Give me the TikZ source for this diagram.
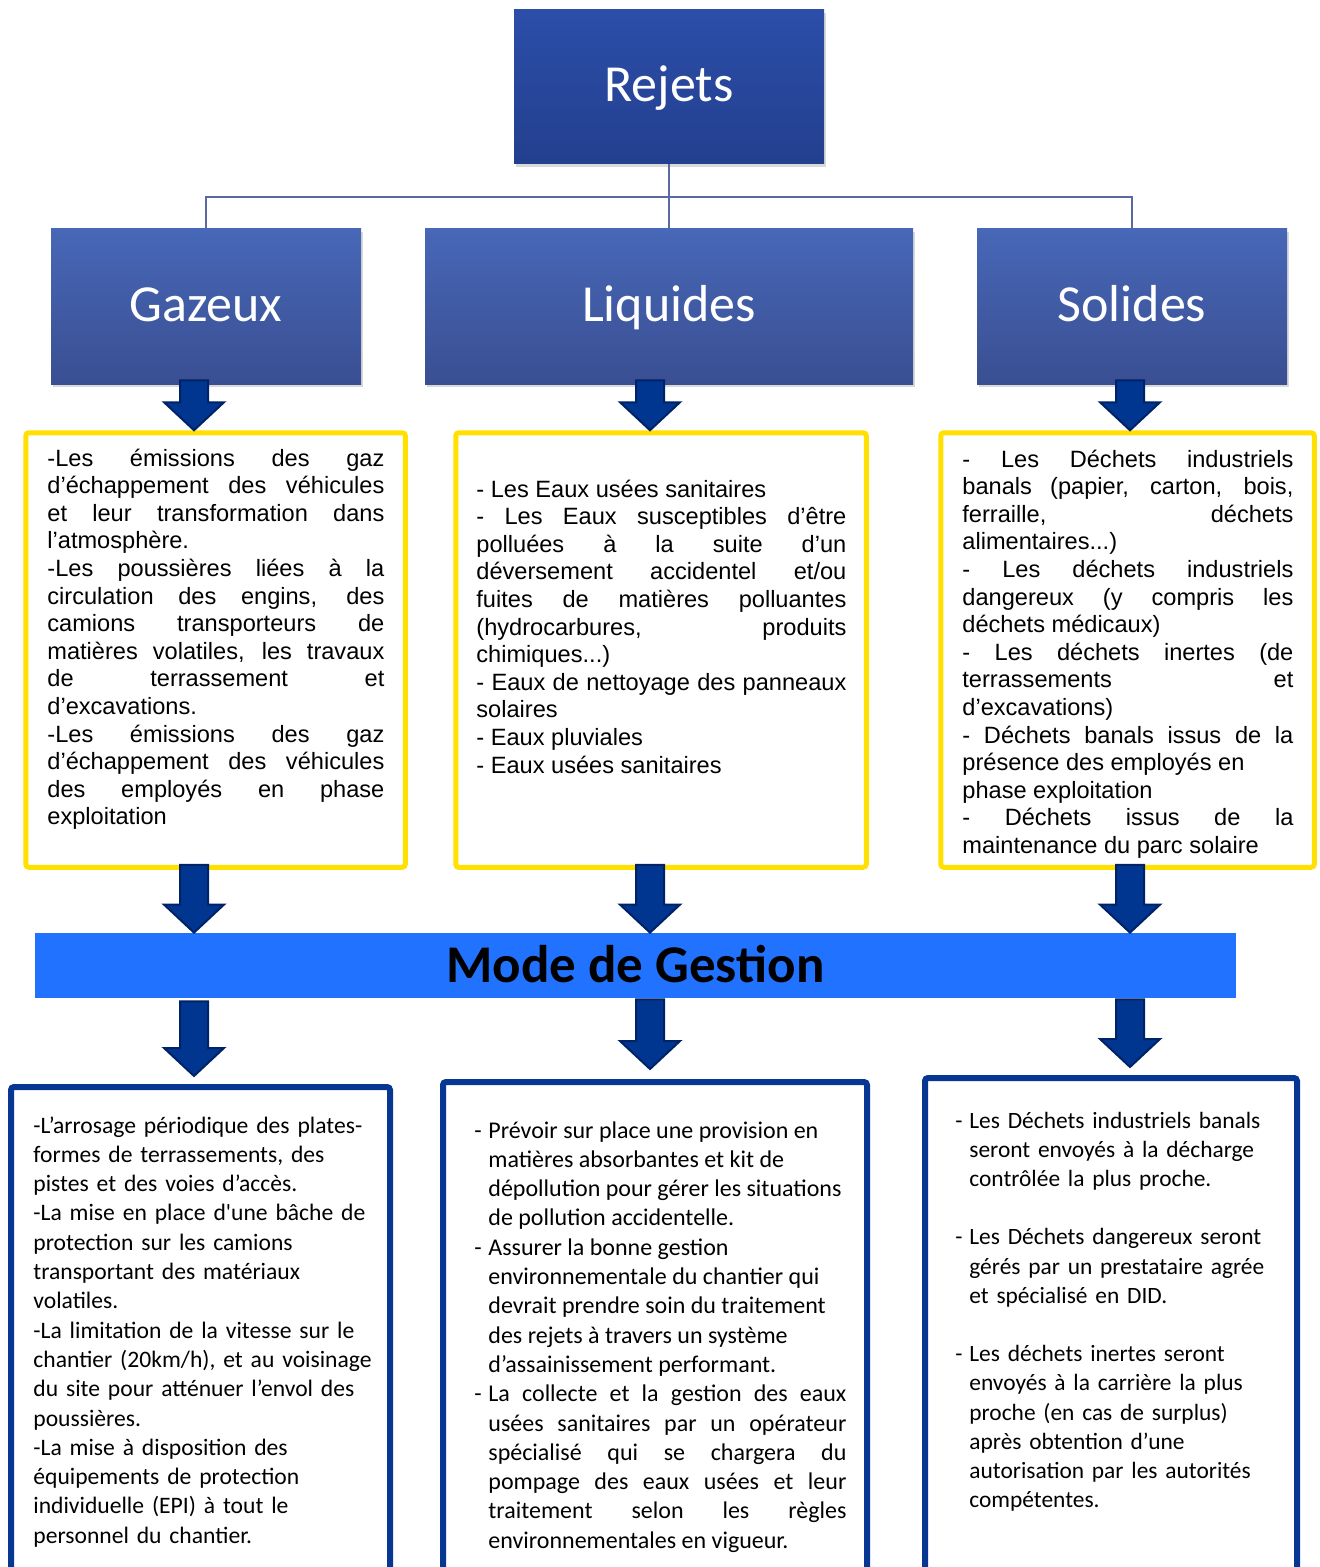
\documentclass[tikz,border=0pt]{standalone}
\usepackage{fontspec}
\setmainfont{Carlito}
\newfontfamily\arialfont{Liberation Sans}
\usetikzlibrary{calc,shadows}

\definecolor{rejtop}{HTML}{2C4EA9}
\definecolor{rejbot}{HTML}{233F8E}
\definecolor{cattop}{HTML}{4767B7}
\definecolor{catbot}{HTML}{3A4F92}
\definecolor{connblue}{HTML}{5B69A3}
\definecolor{yframe}{HTML}{FFE000}
\definecolor{modeblue}{HTML}{2173FF}
\definecolor{gframe}{HTML}{073793}
\definecolor{arrfill}{HTML}{00368F}
\definecolor{arrline}{HTML}{002266}

\tolerance=10000 \hbadness=10000
\hyphenpenalty=10000 \exhyphenpenalty=10000

\tikzset{
  rejbox/.style={top color=rejtop, bottom color=rejbot, text=white,
    drop shadow={shadow xshift=1pt, shadow yshift=-1.5pt, opacity=0.3},
    font=\fontsize{26pt}{30pt}\selectfont, text height=20pt, text depth=5.2pt},
  catbox/.style={rejbox, top color=cattop, bottom color=catbot, minimum height=77.5pt},
  conn/.style={draw=connblue, line width=1pt},
  ybox/.style={draw=yframe, line width=2.5pt, rounded corners=1.5pt},
  ytext/.style={anchor=base west, inner sep=0pt, align=justify,
    font=\arialfont\fontsize{11.8pt}{13.8pt}\selectfont},
  modebar/.style={fill=modeblue, minimum width=600.5pt, minimum height=32.5pt,
    font=\bfseries\fontsize{26.5pt}{30pt}\selectfont, text height=20pt, text depth=3pt},
  gbox/.style={draw=gframe, line width=3pt, rounded corners=1.5pt, minimum height=300pt},
  btext/.style={anchor=base west, inner sep=0pt,
    font=\fontsize{12pt}{14.65pt}\selectfont},
  blkarr/.style={fill=arrfill, draw=arrline, line width=1pt}
}

% x position, start, tip
\newcommand{\blkarrow}[3]{%
  \filldraw[blkarr] let \p1=(#2), \p2=(#3), \p3=(#1,0) in
    (\x3-7pt,\y1) -- (\x3+7pt,\y1) -- (\x3+7pt,\y2+14pt) -- (\x3+15pt,\y2+14pt)
    -- (\x3,\y2) -- (\x3-15pt,\y2+14pt) -- (\x3-7pt,\y2+14pt) -- cycle;}
\newcommand{\bdash}{\leavevmode\llap{\makebox[7pt][l]{-}}}

\begin{document}
\begin{tikzpicture}[x=0.5pt,y=-0.5pt]
\path[use as bounding box, clip] (0,0) rectangle (1320,1567);

% top of the tree
\node[rejbox, minimum width=155pt, minimum height=77pt] (rejets) at (669,87) {Rejets};
\node[catbox, minimum width=155pt] (gaz) at (206,306.5) {Gazeux};
\node[catbox, minimum width=244pt] (liq) at (669,306.5) {Liquides};
\node[catbox, minimum width=155pt] (sol) at (1132,306.5) {Solides};

\coordinate (bus) at (669,197);
\draw[conn] (rejets.south) -- (bus);
\draw[conn] (gaz.north) |- (bus) -| (sol.north);
\draw[conn] (bus) -- (liq.north);

% yellow frames
\node[ybox, minimum width=189.75pt, minimum height=217.25pt] (gazy) at (215.5,650) {};
\node[ybox, minimum width=205.25pt, minimum height=217.25pt] (liqy) at (661,650) {};
\node[ybox, minimum width=186.75pt, minimum height=217.25pt] (soly) at (1127.5,650) {};

\node[ytext, text width=168.5pt] (gaztxt) at (47,466) {-Les émissions des gaz\linebreak
d’échappement des véhicules\linebreak
et leur transformation dans\linebreak
l’atmosphère.\\
-Les poussières liées à la\linebreak
circulation des engins, des\linebreak
camions transporteurs de\linebreak
matières volatiles, les travaux\linebreak
de terrassement et\linebreak
d’excavations.\\
-Les émissions des gaz\linebreak
d’échappement des véhicules\linebreak
des employés en phase\linebreak
exploitation};

\node[ytext, text width=185pt] (liqtxt) at (476,497) {- Les Eaux usées sanitaires\\
- Les Eaux susceptibles d’être\linebreak
polluées à la suite d’un\linebreak
déversement accidentel et/ou\linebreak
fuites de matières polluantes\linebreak
(hydrocarbures, produits\linebreak
chimiques...)\\
- Eaux de nettoyage des panneaux\linebreak
solaires\\
- Eaux pluviales\\
- Eaux usées sanitaires};

\node[ytext, text width=165.5pt] (soltxt) at (962,467) {- Les Déchets industriels\linebreak
banals (papier, carton, bois,\linebreak
ferraille, déchets\linebreak
alimentaires...)\\
- Les déchets industriels\linebreak
dangereux (y compris les\linebreak
déchets médicaux)\\
- Les déchets inertes (de\linebreak
terrassements et\linebreak
d’excavations)\\
- Déchets banals issus de la\linebreak
présence des employés en\\
phase exploitation\\
- Déchets issus de la\linebreak
maintenance du parc solaire};

% management bar
\node[modebar] (mode) at (635.5,965.5) {Mode de Gestion};

% blue frames
\node[gbox, minimum width=189.5pt] (gazg) at (200.5,1387) {};
\node[gbox, minimum width=212pt] (liqg) at (655,1382) {};
\node[gbox, minimum width=186pt] (solg) at (1111,1378) {};

\node[btext, text width=172.5pt, align=left, font=\fontsize{11.8pt}{14.65pt}\selectfont] (gazgtxt) at (33,1133) {-L’arrosage périodique des plates-\\
formes de terrassements, des\\
pistes et des voies d’accès.\\
-La mise en place d\textquotesingle une bâche de\\
protection sur les camions\\
transportant des matériaux\\
volatiles.\\
-La limitation de la vitesse sur le\\
chantier (20km/h), et au voisinage\\
du site pour atténuer l’envol des\\
poussières.\\
-La mise à disposition des\\
équipements de protection\\
individuelle (EPI) à tout le\\
personnel du chantier.};

\node[btext, text width=179pt, align=justify] (liqgtxt) at (488,1138) {\bdash Prévoir sur place une provision en\\
matières absorbantes et kit de\\
dépollution pour gérer les situations\\
de pollution accidentelle.\\
\bdash Assurer la bonne gestion\\
environnementale du chantier qui\\
devrait prendre soin du traitement\\
des rejets à travers un système\\
d’assainissement performant.\\
\bdash La collecte et la gestion des eaux\linebreak
usées sanitaires par un opérateur\linebreak
spécialisé qui se chargera du\linebreak
pompage des eaux usées et leur\linebreak
traitement selon les règles\linebreak
environnementales en vigueur.};

\node[btext, text width=160pt, align=left, font=\fontsize{11.7pt}{14.6pt}\selectfont] (solgtxt) at (969,1128) {\bdash Les Déchets industriels banals\\
seront envoyés à la décharge\\
contrôlée la plus proche.\\[14.6pt]
\bdash Les Déchets dangereux seront\\
gérés par un prestataire agrée\\
et spécialisé en DID.\\[14.6pt]
\bdash Les déchets inertes seront\\
envoyés à la carrière la plus\\
proche (en cas de surplus)\\
après obtention d’une\\
autorisation par les autorités\\
compétentes.};

% block arrows
\blkarrow{194}{$(gaz.south)+(0,-4)$}{gazy.north}
\blkarrow{650}{$(liq.south)+(0,-4)$}{liqy.north}
\blkarrow{1130}{$(sol.south)+(0,-4)$}{soly.north}
\blkarrow{194}{$(gazy.south)+(0,-5)$}{mode.north}
\blkarrow{650}{$(liqy.south)+(0,-5)$}{mode.north}
\blkarrow{1130}{$(soly.south)+(0,-5)$}{mode.north}
\blkarrow{194}{$(mode.south)+(0,3)$}{$(gazg.north)+(0,-8)$}
\blkarrow{650}{$(mode.south)+(0,1)$}{$(liqg.north)+(0,-10)$}
\blkarrow{1130}{$(mode.south)+(0,1)$}{$(solg.north)+(0,-8)$}
\end{tikzpicture}
\end{document}
